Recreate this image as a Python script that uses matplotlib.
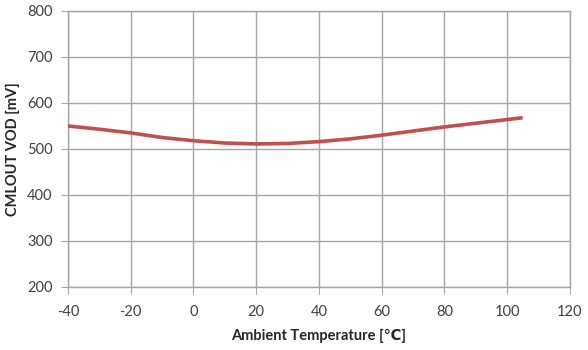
import matplotlib
matplotlib.use("Agg")
import matplotlib.pyplot as plt

# Temperature sweep, values
temp_c = [-40, -30, -20, -10, 0, 10, 20, 30, 40, 50, 60, 70, 80, 90, 100, 105]
vod_mv = [550, 543, 535, 525, 518, 513, 511, 512, 516, 522, 530, 539, 548, 556, 564, 568]

x_ticks = [-40, -20, 0, 20, 40, 60, 80, 100, 120]
y_ticks = [200, 300, 400, 500, 600, 700, 800]

plt.rcParams['font.family'] = ['Lato', 'DejaVu Sans']
plt.rcParams['axes.unicode_minus'] = False

fig = plt.figure(figsize=(5.88, 3.5), dpi=100)
ax = fig.add_axes([0.1156, 0.18, 0.8534, 0.7886])

ax.plot(temp_c, vod_mv, color='#c0504d', linewidth=2.6, solid_capstyle='butt', zorder=3)

ax.set_xlim(-40, 120)
ax.set_ylim(200, 800)
ax.set_xticks(x_ticks)
ax.set_yticks(y_ticks)
ax.grid(True, color='#a6a6a6', linewidth=1.0)
ax.set_axisbelow(True)
for s in ax.spines.values():
    s.set_color('#a6a6a6')
    s.set_linewidth(1.0)
ax.tick_params(axis='both', direction='out', length=5, color='#a6a6a6',
               labelsize=10.5, labelcolor='#404040')
ax.tick_params(axis='x', pad=8)
ax.tick_params(axis='y', pad=6)

ax.set_xlabel('Ambient Temperature [\u2103]', fontsize=10.5, fontweight='bold', color='#262626', labelpad=7)
ax.set_ylabel('CMLOUT VOD [mV]', fontsize=10.5, fontweight='bold', color='#262626', labelpad=5)

fig.savefig('out.png', dpi=100)
